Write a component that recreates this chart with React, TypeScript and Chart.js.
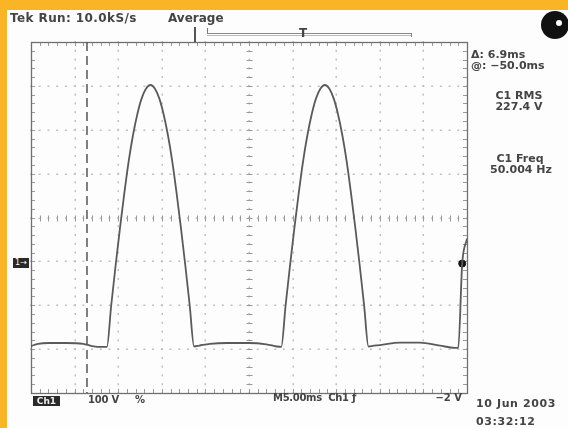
import React, { useEffect, useRef } from "react";
import { Chart, registerables } from "chart.js";

Chart.register(...registerables);

// time (ms) across 10 divisions of 5 ms
const timeMs = [
  0, 0.8, 2, 4, 6, 7, 8.2, 8.7,
  9.2, 9.7, 10.2, 10.7, 11.2, 11.7, 12.2, 12.7, 13.2, 13.7, 14.2, 14.7, 15.2, 15.7, 16.2, 16.7, 17.2, 17.7, 18.2, 18.7,
  19.3, 20.5, 22.5, 25, 27, 28.2, 28.7,
  29.2, 29.7, 30.2, 30.7, 31.2, 31.7, 32.2, 32.7, 33.2, 33.7, 34.2, 34.7, 35.2, 35.7, 36.2, 36.7, 37.2, 37.7, 38.2, 38.7,
  39.3, 40, 42.3, 44.6, 46.9, 48.6, 49.0, 49.45, 50,
];
// screen voltage (100 V / div, 0 at centre line)
const volts = [
  -293, -288, -286, -286, -288, -293, -295, -295,
  -200, -110, -25, 55, 128, 188, 236, 272, 294, 302, 294, 272, 236, 188, 128, 55, -25, -110, -200, -294,
  -292, -288, -286, -286, -289, -294, -295,
  -200, -110, -25, 55, 128, 188, 236, 272, 294, 302, 294, 272, 236, 188, 128, 55, -25, -110, -200, -294,
  -292, -291, -285, -285, -292, -297, -297, -105, -48,
];
const markerTime = [49.45];
const markerVolt = [-105];
const cursorTime = 6.42;

const xMin = 0, xMax = 50, xDiv = 5;
const yMin = -400, yMax = 400, yDiv = 100;

const graticule = {
  id: "graticule",
  beforeDatasetsDraw(chart: any) {
    const { ctx, chartArea: a, scales } = chart;
    const xs = scales.x, ys = scales.y;
    const L = a.left, R = a.right, T = a.top, B = a.bottom;
    ctx.save();
    ctx.fillStyle = "#c0c0c0";
    for (let v = xMin + xDiv; v < xMax; v += xDiv) {
      const px = Math.round(xs.getPixelForValue(v));
      for (let m = yMin; m <= yMax; m += yDiv / 5) {
        const py = ys.getPixelForValue(m);
        ctx.fillRect(px - 0.5, py - 1, 1.5, 2);
      }
    }
    for (let v = yMin + yDiv; v < yMax; v += yDiv) {
      const py = Math.round(ys.getPixelForValue(v));
      for (let m = xMin; m <= xMax; m += xDiv / 5) {
        const px = xs.getPixelForValue(m);
        ctx.fillRect(px - 1, py - 0.5, 2, 1.5);
      }
    }
    ctx.strokeStyle = "#999";
    ctx.lineWidth = 1;
    const cx = Math.round(xs.getPixelForValue((xMin + xMax) / 2)) + 0.5;
    const cy = Math.round(ys.getPixelForValue(0)) + 0.5;
    ctx.beginPath();
    for (let m = yMin; m <= yMax; m += yDiv / 5) {
      const py = Math.round(ys.getPixelForValue(m)) + 0.5;
      ctx.moveTo(cx - 3, py); ctx.lineTo(cx + 3, py);
      ctx.moveTo(L, py); ctx.lineTo(L + 4, py);
      ctx.moveTo(R, py); ctx.lineTo(R - 4, py);
    }
    for (let m = xMin; m <= xMax; m += xDiv / 5) {
      const px = Math.round(xs.getPixelForValue(m)) + 0.5;
      ctx.moveTo(px, cy - 3); ctx.lineTo(px, cy + 3);
      ctx.moveTo(px, T); ctx.lineTo(px, T + 4);
      ctx.moveTo(px, B); ctx.lineTo(px, B - 4);
    }
    ctx.stroke();
    ctx.strokeStyle = "#707070";
    ctx.lineWidth = 1.3;
    ctx.strokeRect(Math.round(L) + 0.5, Math.round(T) + 0.5, Math.round(R - L), Math.round(B - T));
    const cu = xs.getPixelForValue(cursorTime);
    ctx.strokeStyle = "#555";
    ctx.lineWidth = 1.5;
    ctx.setLineDash([9, 5]);
    ctx.beginPath();
    ctx.moveTo(cu, T); ctx.lineTo(cu, B);
    ctx.stroke();
    ctx.restore();
  },
};

const font = "'DejaVu Sans', sans-serif";

function Txt(props: { x: number; y: number; s?: number; children: any; ls?: number; align?: string; bold?: boolean }) {
  const s = props.s ?? 12;
  const style: any = {
    position: "absolute",
    top: props.y - Math.round(s * 1.2) / 2,
    fontFamily: font,
    fontSize: s,
    fontWeight: props.bold === false ? "normal" : "bold",
    lineHeight: `${Math.round(s * 1.2)}px`,
    color: "#444",
    whiteSpace: "pre",
    letterSpacing: props.ls ?? 0,
  };
  if (props.align === "right") style.right = 568 - props.x;
  else if (props.align === "center") { style.left = props.x - 60; style.width = 120; style.textAlign = "center"; }
  else style.left = props.x;
  return <span style={style}>{props.children}</span>;
}

export default function App() {
  const ref = useRef<HTMLCanvasElement>(null);
  useEffect(() => {
    const chart = new Chart(ref.current!, {
      type: "line",
      data: {
        datasets: [
          {
            data: timeMs.map((t, i) => ({ x: t, y: volts[i] })),
            borderColor: "#5a5a5a",
            borderWidth: 1.8,
            pointRadius: 0,
            cubicInterpolationMode: "monotone",
          },
          {
            data: markerTime.map((t, i) => ({ x: t, y: markerVolt[i] })),
            showLine: false,
            pointRadius: 3.5,
            pointBackgroundColor: "#111",
            pointBorderColor: "#111",
          },
        ],
      },
      options: {
        responsive: false,
        animation: false,
        events: [],
        layout: { padding: { left: 31, top: 42, right: 101, bottom: 35 } },
        plugins: { legend: { display: false }, tooltip: { enabled: false } },
        scales: {
          x: { type: "linear", min: xMin, max: xMax, display: false },
          y: { type: "linear", min: yMin, max: yMax, display: false },
        },
      },
      plugins: [graticule],
    } as any);
    return () => chart.destroy();
  }, []);

  return (
    <div style={{ position: "fixed", left: 0, top: 0, width: 568, height: 428, background: "#f9b526", overflow: "hidden" }}>
      <div style={{ position: "absolute", left: 7, top: 10, right: 0, bottom: 0, background: "#fdfdfd" }} />
      <canvas ref={ref} width={568} height={428} style={{ position: "absolute", left: 0, top: 0, width: 568, height: 428 }} />
      {/* header */}
      <Txt x={10} y={17.5} s={12} ls={0.4}>Tek Run: 10.0kS/s</Txt>
      <Txt x={168} y={17.5} s={12}>Average</Txt>
      {/* trigger position bar */}
      <div style={{ position: "absolute", left: 194, top: 27, width: 2, height: 15, background: "#555" }} />
      <div style={{ position: "absolute", left: 207, top: 28, width: 1, height: 6, background: "#777" }} />
      <div style={{ position: "absolute", left: 207, top: 33, width: 205, height: 1, background: "#888" }} />
      <div style={{ position: "absolute", left: 207, top: 35, width: 205, height: 1, background: "#bbb" }} />
      <div style={{ position: "absolute", left: 411, top: 33, width: 1, height: 4, background: "#888" }} />
      <Txt x={299} y={33} s={12}>T</Txt>
      {/* logo ball */}
      <div style={{ position: "absolute", left: 541, top: 11, width: 28, height: 28, borderRadius: "50%", background: "#111" }} />
      <div style={{ position: "absolute", left: 556, top: 20, width: 6, height: 6, borderRadius: "50%", background: "#fff" }} />
      {/* right readouts */}
      <Txt x={471} y={54} s={11}>Δ: 6.9ms</Txt>
      <Txt x={471} y={65} s={11}>@: −50.0ms</Txt>
      <Txt x={519} y={95} s={11} align="center">C1 RMS</Txt>
      <Txt x={519} y={106} s={11} align="center">227.4 V</Txt>
      <Txt x={520} y={158} s={11} align="center">C1 Freq</Txt>
      <Txt x={521} y={169} s={11} align="center">50.004 Hz</Txt>
      {/* ground marker */}
      <div style={{ position: "absolute", left: 13, top: 258, width: 16, height: 10, background: "#2a2a2a", color: "#fff", fontFamily: font, fontSize: 8, lineHeight: "10px", textAlign: "center" }}>1→</div>
      {/* bottom readouts */}
      <div style={{ position: "absolute", left: 33, top: 396, width: 27, height: 10, background: "#2a2a2a", color: "#eee", fontFamily: font, fontSize: 9, lineHeight: "10px", textAlign: "center", fontWeight: "bold" }}>Ch1</div>
      <Txt x={88} y={400} s={10} ls={-0.2}>100 V</Txt>
      <Txt x={135} y={400} s={10}>%</Txt>
      <Txt x={273} y={398} s={10} ls={-0.3}>M5.00ms  Ch1 ƒ</Txt>
      <Txt x={462} y={398} s={10} align="right">−2 V</Txt>
      <Txt x={476} y={403} s={11} ls={0.6}>10 Jun 2003</Txt>
      <Txt x={476} y={421} s={11} ls={0.6}>03:32:12</Txt>
    </div>
  );
}
